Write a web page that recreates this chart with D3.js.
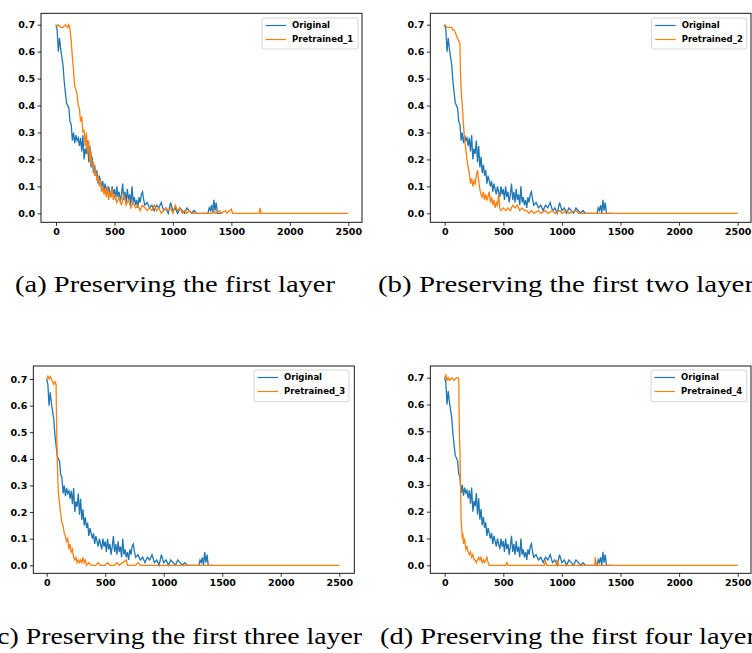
<!DOCTYPE html>
<html>
<head>
<meta charset="utf-8">
<script src="https://cdn.jsdelivr.net/npm/d3@7"></script>
<style>
  body { margin: 0; background: #fff; }
  svg { display: block; }
</style>
</head>
<body>
<svg id="chart" width="752" height="653"></svg>
<script>
// loss curves, [step, loss]
const original = [[0,0.70],[10,0.68],[20,0.60],[30,0.65],[40,0.61],[50,0.58],[60,0.55],[70,0.49],[80,0.45],[90,0.41],
  [100,0.40],[110,0.39],[120,0.34],[130,0.33],[140,0.27],[150,0.30],[160,0.26],[170,0.29],[180,0.27],[190,0.28],
  [200,0.25],[210,0.28],[220,0.23],[230,0.29],[240,0.20],[250,0.24],[260,0.22],[270,0.27],[280,0.19],[290,0.25],
  [300,0.17],[310,0.21],[320,0.15],[330,0.18],[340,0.14],[350,0.16],[360,0.11],[370,0.14],[380,0.12],[390,0.10],
  [400,0.12],[410,0.08],[420,0.11],[430,0.09],[440,0.07],[450,0.10],[460,0.08],[470,0.06],[480,0.10],[490,0.07],
  [500,0.09],[510,0.05],[520,0.10],[530,0.06],[540,0.08],[550,0.04],[560,0.07],[570,0.11],[580,0.05],[590,0.08],
  [600,0.04],[610,0.09],[620,0.05],[630,0.07],[640,0.03],[650,0.10],[660,0.04],[670,0.06],[680,0.03],[690,0.05],
  [700,0.02],[710,0.06],[720,0.04],[730,0.07],[740,0.08],[750,0.05],[760,0.03],[780,0.04],[800,0.02],[820,0.03],
  [840,0.01],[860,0.03],[880,0.02],[900,0.04],[920,0.01],[940,0.02],[960,0.00],[980,0.04],[1000,0.01],[1020,0.02],
  [1040,0.00],[1060,0.02],[1080,0.01],[1100,0.00],[1120,0.02],[1140,0.01],[1160,0.00],[1180,0.01],[1200,0.00],
  [1300,0.00],[1310,0.02],[1320,0.01],[1330,0.03],[1340,0.00],[1350,0.05],[1360,0.01],[1370,0.04],[1380,0.00],[1420,0.00]];

const pretrained1 = [[0,0.69],[20,0.70],[40,0.69],[60,0.69],[80,0.70],[100,0.69],[110,0.70],[120,0.68],[130,0.64],[140,0.58],
  [150,0.53],[160,0.47],[170,0.46],[180,0.44],[190,0.40],[200,0.39],[210,0.34],[220,0.36],[230,0.30],[240,0.31],
  [250,0.25],[260,0.30],[270,0.22],[280,0.27],[290,0.19],[300,0.23],[310,0.17],[320,0.19],[330,0.14],[340,0.16],
  [350,0.12],[360,0.14],[370,0.10],[380,0.12],[390,0.08],[400,0.10],[410,0.07],[420,0.09],[430,0.06],[440,0.10],
  [450,0.05],[460,0.08],[470,0.06],[480,0.09],[490,0.05],[500,0.07],[520,0.04],[540,0.06],[560,0.03],[580,0.07],
  [600,0.03],[620,0.05],[640,0.02],[660,0.04],[680,0.02],[700,0.03],[720,0.01],[740,0.03],[760,0.02],[780,0.01],
  [800,0.02],[820,0.01],[840,0.03],[860,0.01],[880,0.02],[900,0.00],[920,0.01],[940,0.02],[960,0.01],[980,0.02],
  [1000,0.00],[1020,0.03],[1040,0.01],[1060,0.02],[1080,0.00],[1100,0.01],[1120,0.00],[1140,0.01],[1160,0.00],
  [1340,0.00],[1350,0.01],[1360,0.00],[1400,0.01],[1410,0.00],[1450,0.01],[1460,0.00],[1500,0.015],[1510,0.00],
  [1740,0.00],[1745,0.02],[1755,0.00],[2500,0.00]];

const pretrained2 = [[0,0.70],[20,0.69],[40,0.69],[60,0.69],[70,0.68],[80,0.68],[90,0.67],[100,0.66],[110,0.65],[120,0.64],
  [130,0.63],[135,0.52],[140,0.46],[150,0.40],[160,0.33],[170,0.27],[180,0.24],[190,0.20],[200,0.17],[210,0.15],
  [220,0.11],[230,0.13],[240,0.10],[250,0.12],[260,0.11],[270,0.14],[280,0.16],[290,0.12],[300,0.09],[310,0.07],
  [320,0.06],[330,0.08],[340,0.05],[350,0.07],[360,0.05],[370,0.06],[380,0.08],[390,0.04],[400,0.06],[410,0.03],
  [420,0.05],[430,0.02],[440,0.04],[450,0.03],[460,0.07],[470,0.02],[480,0.01],[500,0.02],[520,0.01],[540,0.02],
  [560,0.01],[580,0.03],[600,0.02],[620,0.03],[640,0.01],[660,0.02],[680,0.01],[700,0.01],[720,0.00],[740,0.01],
  [760,0.00],[800,0.01],[820,0.00],[860,0.01],[880,0.00],[920,0.01],[940,0.00],[980,0.01],[1000,0.00],[1040,0.01],
  [1060,0.00],[1120,0.01],[1140,0.00],[2500,0.00]];

const pretrained3 = [[0,0.70],[10,0.71],[20,0.70],[30,0.71],[40,0.70],[50,0.69],[60,0.68],[70,0.69],[80,0.68],[85,0.52],
  [90,0.40],[95,0.33],[100,0.27],[110,0.23],[120,0.19],[130,0.16],[140,0.15],[150,0.12],[160,0.11],[170,0.09],
  [180,0.10],[190,0.06],[200,0.08],[210,0.05],[220,0.06],[230,0.03],[240,0.02],[250,0.03],[260,0.01],[270,0.02],
  [280,0.01],[290,0.02],[300,0.01],[310,0.03],[320,0.01],[330,0.02],[340,0.00],[360,0.01],[380,0.00],[420,0.00],
  [440,0.01],[460,0.00],[500,0.00],[520,0.01],[540,0.00],[580,0.00],[600,0.01],[620,0.00],[680,0.02],[690,0.00],
  [760,0.00],[780,0.01],[800,0.00],[2500,0.00]];

const pretrained4 = [[0,0.70],[10,0.71],[20,0.69],[30,0.70],[40,0.69],[60,0.70],[80,0.69],[100,0.70],[115,0.70],[120,0.69],
  [125,0.50],[130,0.42],[135,0.30],[140,0.17],[145,0.14],[150,0.10],[155,0.12],[160,0.08],[170,0.10],[180,0.06],
  [190,0.07],[200,0.05],[210,0.04],[220,0.05],[230,0.03],[240,0.04],[250,0.02],[260,0.02],[270,0.01],[280,0.02],
  [290,0.03],[300,0.02],[310,0.03],[320,0.01],[330,0.02],[340,0.01],[350,0.02],[360,0.03],[370,0.01],[380,0.00],
  [520,0.00],[530,0.01],[540,0.00],[850,0.00],[860,0.015],[870,0.00],[950,0.00],[960,0.02],[970,0.00],
  [1280,0.00],[1285,0.03],[1295,0.00],[2500,0.00]];

const xTicks = [0, 500, 1000, 1500, 2000, 2500];
const yTicks = [0.0, 0.1, 0.2, 0.3, 0.4, 0.5, 0.6, 0.7];
const seriesNames = ["Original", "Pretrained_1", "Pretrained_2", "Pretrained_3", "Pretrained_4"];
const captions = [
  "(a)  Preserving the first layer",
  "(b)  Preserving the first two layer",
  "(c)  Preserving the first three layer",
  "(d)  Preserving the first four layer"
];

const blue = "#1f77b4", orange = "#ff7f0e";

const panels = [
  { pre: pretrained1, name: seriesNames[1], frame: [41, 13.3, 362, 222.3], xr: [56, 348.3], yr: [213.3, 24.7],
    leg: [262, 18, 96, 31], cap: { x: 15, y: 292, len: 320, anchor: "start" } },
  { pre: pretrained2, name: seriesNames[2], frame: [430.3, 13.3, 751, 222.3], xr: [444.7, 737.7], yr: [213.3, 24.7],
    leg: [651.7, 18, 95, 31], cap: { x: 378, y: 292, len: 376, anchor: "start" } },
  { pre: pretrained3, name: seriesNames[3], frame: [33.3, 366, 354.3, 573.3], xr: [46.7, 339.3], yr: [565.3, 379],
    leg: [254, 370, 95, 31.7], cap: { x: 362, y: 644, len: 374, anchor: "end" } },
  { pre: pretrained4, name: seriesNames[4], frame: [430.3, 366, 751, 573.3], xr: [444.7, 737.7], yr: [565.3, 377.7],
    leg: [651, 370, 95.7, 31.7], cap: { x: 380, y: 644, len: 376, anchor: "start" } }
];

const svg = d3.select("#chart");

panels.forEach(function(p, i) {
  const [fl, ft, fr, fb] = p.frame;
  const x = d3.scaleLinear().domain([0, 2500]).range(p.xr);
  const y = d3.scaleLinear().domain([0, 0.7]).range(p.yr);

  const g = svg.append("g");

  const clipId = "clip" + i;
  g.append("clipPath").attr("id", clipId)
    .append("rect").attr("x", fl).attr("y", ft).attr("width", fr - fl).attr("height", fb - ft);

  const line = d3.line().x(d => x(d[0])).y(d => y(d[1]));

  const plot = g.append("g").attr("clip-path", "url(#" + clipId + ")");
  plot.append("path").datum(original)
    .attr("d", line).attr("fill", "none").attr("stroke", blue).attr("stroke-width", 1.3);
  plot.append("path").datum(p.pre)
    .attr("d", line).attr("fill", "none").attr("stroke", orange).attr("stroke-width", 1.3);

  // axes
  const xAxis = d3.axisBottom(x).tickValues(xTicks).tickFormat(d3.format("d")).tickSizeOuter(0).tickSize(3.5).tickPadding(2.5);
  const yAxis = d3.axisLeft(y).tickValues(yTicks).tickFormat(d3.format(".1f")).tickSizeOuter(0).tickSize(3.5).tickPadding(2.5);

  const gx = g.append("g").attr("transform", "translate(0," + fb + ")").call(xAxis);
  const gy = g.append("g").attr("transform", "translate(" + fl + ",0)").call(yAxis);
  [gx, gy].forEach(function(a) {
    a.select(".domain").remove();
    a.selectAll("line").attr("stroke", "#000").attr("stroke-width", 0.8);
    a.selectAll("text").attr("fill", "#000")
      .style("font-family", "'DejaVu Sans', sans-serif").style("font-size", "9.5px").style("font-weight", "bold");
  });

  g.append("rect").attr("x", fl).attr("y", ft).attr("width", fr - fl).attr("height", fb - ft)
    .attr("fill", "none").attr("stroke", "#000").attr("stroke-width", 0.9);

  // legend
  const [lx, ly, lw, lh] = p.leg;
  const lg = g.append("g");
  lg.append("rect").attr("x", lx).attr("y", ly).attr("width", lw).attr("height", lh)
    .attr("rx", 2).attr("fill", "#fff").attr("fill-opacity", 0.8).attr("stroke", "#cccccc").attr("stroke-width", 0.8);
  [[seriesNames[0], blue], [p.name, orange]].forEach(function(e, k) {
    const ry = ly + 7.5 + k * 14;
    lg.append("line").attr("x1", lx + 3.5).attr("x2", lx + 24).attr("y1", ry).attr("y2", ry)
      .attr("stroke", e[1]).attr("stroke-width", 1.2);
    lg.append("text").attr("x", lx + 30).attr("y", ry).attr("dy", "0.35em").text(e[0])
      .style("font-family", "'DejaVu Sans', sans-serif").style("font-size", "8.5px").style("font-weight", "bold")
      .attr("fill", "#000");
  });

  // caption
  g.append("text").attr("x", p.cap.x).attr("y", p.cap.y).attr("text-anchor", p.cap.anchor)
    .attr("textLength", p.cap.len).attr("lengthAdjust", "spacingAndGlyphs")
    .style("font-family", "'Liberation Serif', 'DejaVu Serif', serif").style("font-size", "23.5px")
    .attr("fill", "#000").text(captions[i]);
});
</script>
</body>
</html>
